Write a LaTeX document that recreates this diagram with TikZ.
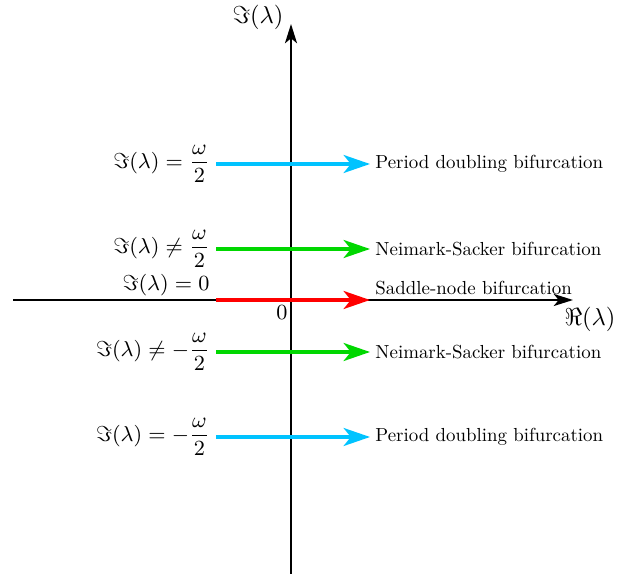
\documentclass[tikz,border=0pt]{standalone}
\usepackage{fix-cm}
\usepackage{graphicx}
\usepackage{amsmath,amssymb}
\usetikzlibrary{arrows.meta}
\definecolor{cyanA}{RGB}{0,195,255}
\definecolor{greenA}{RGB}{0,215,0}
\definecolor{redA}{RGB}{255,0,0}
\newcommand{\bifname}[1]{\scalebox{0.787}{\fontsize{10}{12}\selectfont #1}}
\begin{document}
\begin{tikzpicture}[x=0.4167pt,y=-0.4167pt,
  axis/.style={line width=0.85pt,-{Stealth[length=8pt,width=5pt,inset=2pt]}},
  bif/.style={line width=1.3pt,-{Stealth[length=11pt,width=7.5pt,inset=3pt]}},
  mlab/.style={anchor=east,inner sep=0pt,font=\fontsize{9.0}{11}\selectfont},
  tlab/.style={anchor=west,inner sep=0pt},
  alab/.style={inner sep=0pt,font=\fontsize{10.2}{12}\selectfont}]
\useasboundingbox (0,0) rectangle (630,574);
% axes
\coordinate (yb) at (291,574);
\coordinate (yt) at (291,24);
\coordinate (xl) at (13,300);
\coordinate (xr) at (573,300);
\draw[axis] (yb) -- (yt);
\draw[axis] (xl) -- (xr);
\node[alab] (imlab) at (258,17) {$\Im(\lambda)$};
\node[alab] (relab) at (590,319) {$\Re(\lambda)$};
\node[inner sep=0pt,font=\fontsize{9.0}{11}\selectfont] (zero) at (282,313) {$0$};
% rows
\foreach \n/\y/\c in {a/164/cyanA,b/249/greenA,c/300/redA,d/352/greenA,e/437/cyanA}{
  \coordinate (s\n) at (216,\y);
  \coordinate (t\n) at (370,\y);
  \draw[bif,draw=\c,fill=\c] (s\n) -- (t\n);
}
\node[mlab] (la) at (210,164) {$\Im(\lambda)=\dfrac{\omega}{2}$};
\node[mlab] (lb) at (210,249) {$\Im(\lambda)\neq\dfrac{\omega}{2}$};
\node[mlab] (lc) at (210,285) {$\Im(\lambda)=0$};
\node[mlab] (ld) at (210,352) {$\Im(\lambda)\neq-\dfrac{\omega}{2}$};
\node[mlab] (le) at (210,437) {$\Im(\lambda)=-\dfrac{\omega}{2}$};
\node[tlab] (ta) at (375,164) {\bifname{Period doubling bifurcation}};
\node[tlab] (tb) at (375,249) {\bifname{Neimark-Sacker bifurcation}};
\node[tlab] (tc) at (375,288) {\bifname{Saddle-node bifurcation}};
\node[tlab] (td) at (375,352) {\bifname{Neimark-Sacker bifurcation}};
\node[tlab] (te) at (375,437) {\bifname{Period doubling bifurcation}};
\end{tikzpicture}
\end{document}
